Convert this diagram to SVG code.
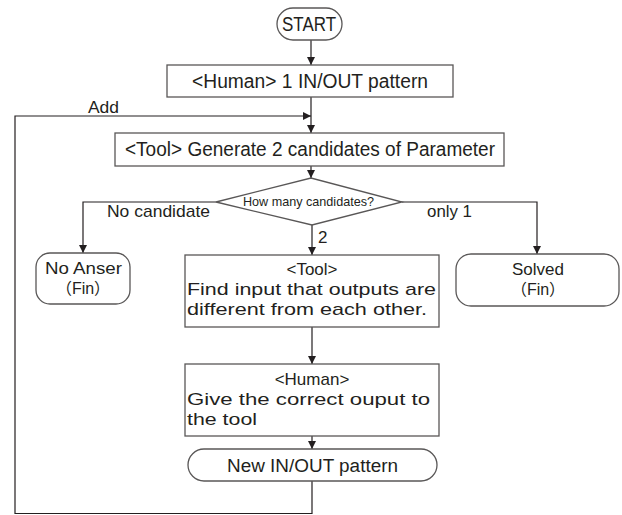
<svg xmlns="http://www.w3.org/2000/svg" width="622" height="515" viewBox="0 0 622 515">
<defs>
<marker id="arr" viewBox="0 0 10 10" refX="10" refY="5" markerWidth="9" markerHeight="8" markerUnits="userSpaceOnUse" orient="auto">
<path d="M0,0 L10,5 L0,10 Z" fill="#231f20"/>
</marker>
</defs>
<style>
.box{fill:#fff;stroke:#595757;stroke-width:1.3}
.con{fill:none;stroke:#231f20;stroke-width:1.2}
.t{font-family:"Liberation Sans",Arial,sans-serif;fill:#231f20}
.c{font-family:"Liberation Sans","Noto Sans CJK JP",sans-serif;fill:#231f20}
</style>
<rect width="622" height="515" fill="#fff"/>
<g id="connectors">
<line class="con" x1="311" y1="40" x2="311" y2="65" marker-end="url(#arr)"/>
<line class="con" x1="311" y1="97" x2="311" y2="133" marker-end="url(#arr)"/>
<path class="con" d="M312,481 V513.5 H15 V116 H311" marker-end="url(#arr)"/>
<line class="con" x1="311" y1="166" x2="311" y2="178" marker-end="url(#arr)"/>
<path class="con" d="M216,202 H83 V253" marker-end="url(#arr)"/>
<path class="con" d="M402,202 H537 V254" marker-end="url(#arr)"/>
<line class="con" x1="312" y1="225" x2="312" y2="255" marker-end="url(#arr)"/>
<line class="con" x1="312" y1="327" x2="312" y2="364" marker-end="url(#arr)"/>
<line class="con" x1="312" y1="436" x2="312" y2="449" marker-end="url(#arr)"/>
<text class="t" x="88" y="113" font-size="16" textLength="31" lengthAdjust="spacingAndGlyphs">Add</text>
<text class="t" x="107" y="217" font-size="17" textLength="103" lengthAdjust="spacingAndGlyphs">No candidate</text>
<text class="t" x="427" y="217" font-size="17" textLength="45" lengthAdjust="spacingAndGlyphs">only 1</text>
<text class="t" x="318" y="243" font-size="17">2</text>
</g>
<g id="start">
<rect class="box" x="277" y="8" width="65" height="32" rx="16"/>
<text class="t" x="282" y="31" font-size="20" textLength="54" lengthAdjust="spacingAndGlyphs">START</text>
</g>
<g id="human-pattern">
<rect class="box" x="167" y="65" width="286" height="32"/>
<text class="t" x="192" y="88" font-size="20" textLength="236" lengthAdjust="spacingAndGlyphs">&lt;Human&gt; 1 IN/OUT pattern</text>
</g>
<g id="generate">
<rect class="box" x="115" y="133" width="389" height="33"/>
<text class="t" x="125" y="156" font-size="20" textLength="370" lengthAdjust="spacingAndGlyphs">&lt;Tool&gt; Generate 2 candidates of Parameter</text>
</g>
<g id="decision">
<polygon class="box" points="216,202 311,178 402,202 312,225"/>
<text class="t" x="243" y="206" font-size="13" textLength="131" lengthAdjust="spacingAndGlyphs">How many candidates?</text>
</g>
<g id="no-answer">
<rect class="box" x="36" y="253" width="94" height="51" rx="14"/>
<text class="t" x="45" y="274" font-size="17" textLength="77" lengthAdjust="spacingAndGlyphs">No Anser</text>
<text class="c" x="83" y="294" font-size="16" text-anchor="middle">（Fin）</text>
</g>
<g id="solved">
<rect class="box" x="456" y="254" width="163" height="52" rx="15"/>
<text class="t" x="538" y="275" font-size="17" text-anchor="middle">Solved</text>
<text class="c" x="538" y="295" font-size="16" text-anchor="middle">（Fin）</text>
</g>
<g id="find-input">
<rect class="box" x="185" y="255" width="254" height="72"/>
<text class="t" x="312" y="275" font-size="17" text-anchor="middle">&lt;Tool&gt;</text>
<text class="t" x="187" y="295" font-size="17" textLength="249" lengthAdjust="spacingAndGlyphs">Find input that outputs are</text>
<text class="t" x="187" y="315" font-size="17" textLength="240" lengthAdjust="spacingAndGlyphs">different from each other.</text>
</g>
<g id="give-output">
<rect class="box" x="185" y="364" width="254" height="72"/>
<text class="t" x="312" y="385" font-size="17" text-anchor="middle">&lt;Human&gt;</text>
<text class="t" x="187" y="405" font-size="17" textLength="243" lengthAdjust="spacingAndGlyphs">Give the correct ouput to</text>
<text class="t" x="187" y="425" font-size="17" textLength="70" lengthAdjust="spacingAndGlyphs">the tool</text>
</g>
<g id="new-pattern">
<rect class="box" x="188" y="449" width="249" height="32" rx="16"/>
<text class="t" x="227" y="472" font-size="18" textLength="171" lengthAdjust="spacingAndGlyphs">New IN/OUT pattern</text>
</g>
</svg>
